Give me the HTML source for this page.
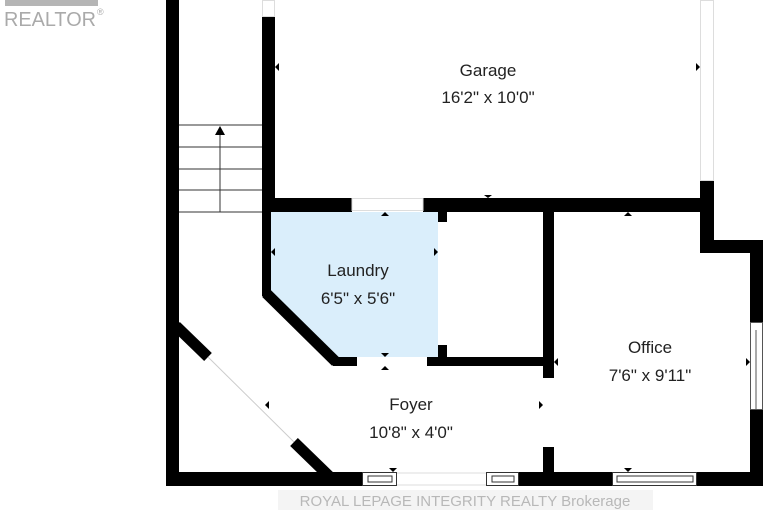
<!DOCTYPE html>
<html><head><meta charset="utf-8"><style>
html,body{margin:0;padding:0;background:#fff;width:767px;height:511px;overflow:hidden}
svg{display:block}
.t{font-family:"Liberation Sans Narrow","Liberation Sans",sans-serif;font-size:17px;fill:#222;text-anchor:middle}
</style></head><body>
<svg width="767" height="511" viewBox="0 0 767 511">
<!-- realtor logo -->
<rect x="5" y="0" width="93" height="6" fill="#b5b5b5"/>
<text x="4" y="26" font-family="Liberation Sans,sans-serif" font-size="20" fill="#aaa" textLength="92" lengthAdjust="spacingAndGlyphs">REALTOR</text>
<text x="97" y="15" font-family="Liberation Sans,sans-serif" font-size="9" fill="#aaa">®</text>

<!-- laundry fill -->
<polygon points="271,212 438,212 438,357 333,357 271,296" fill="#daeefb"/>

<g fill="#000">
<rect x="166" y="0" width="13" height="486"/>
<rect x="262" y="17" width="13" height="194"/>
<rect x="262" y="198" width="9" height="98"/>
<rect x="262" y="198" width="90" height="14"/>
<rect x="423" y="198" width="291" height="14"/>
<rect x="700" y="181" width="14" height="72"/>
<rect x="700" y="240" width="63" height="13"/>
<rect x="750" y="240" width="13" height="82"/>
<rect x="750" y="410" width="13" height="76"/>
<rect x="438" y="212" width="9" height="10"/>
<rect x="438" y="345" width="9" height="21"/>
<rect x="333" y="357" width="24" height="9"/>
<rect x="427" y="357" width="127" height="9"/>
<rect x="543" y="212" width="11" height="166"/>
<rect x="543" y="447" width="11" height="39"/>
<rect x="166" y="472" width="196" height="14"/>
<rect x="518" y="472" width="94" height="14"/>
<rect x="697" y="472" width="66" height="14"/>
</g>
<line x1="266" y1="293" x2="336" y2="362" stroke="#000" stroke-width="11"/>
<line x1="176" y1="326" x2="208" y2="357" stroke="#000" stroke-width="11"/>
<line x1="208" y1="357" x2="294" y2="442" stroke="#ccc" stroke-width="1"/>
<line x1="294" y1="442" x2="329" y2="476" stroke="#000" stroke-width="11"/>
<rect x="262.5" y="0.5" width="12" height="16" fill="none" stroke="#ddd"/>
<rect x="700.5" y="0.5" width="13" height="180" fill="none" stroke="#ddd"/>
<rect x="352" y="198.5" width="71" height="12" fill="none" stroke="#ddd"/>
<rect x="750.5" y="322.5" width="12" height="87" fill="none" stroke="#555"/>
<line x1="756" y1="330" x2="756" y2="410" stroke="#555"/>
<rect x="362.5" y="472.5" width="34" height="13" fill="#fff" stroke="#333"/>
<rect x="368" y="476" width="24" height="6" fill="none" stroke="#333"/>
<rect x="486.5" y="472.5" width="32" height="13" fill="#fff" stroke="#333"/>
<rect x="492" y="476" width="22" height="6" fill="none" stroke="#333"/>
<rect x="612.5" y="472.5" width="84" height="13" fill="#fff" stroke="#333"/>
<rect x="617" y="476" width="76" height="6" fill="none" stroke="#333"/>
<line x1="397" y1="473" x2="486" y2="473" stroke="#ddd"/>
<line x1="397" y1="485" x2="486" y2="485" stroke="#ddd"/>
<g stroke="#333" stroke-width="1">
<line x1="179" y1="125" x2="262" y2="125"/>
<line x1="179" y1="147" x2="262" y2="147"/>
<line x1="179" y1="169" x2="262" y2="169"/>
<line x1="179" y1="190" x2="262" y2="190"/>
<line x1="179" y1="212" x2="262" y2="212"/>
<line x1="220" y1="212" x2="220" y2="132"/>
</g>
<polygon points="220,126 215,135 225,135" fill="#000"/>
<g fill="#000">
<polygon points="275,67 279,63 279,71"/>
<polygon points="700,67 696,63 696,71"/>
<polygon points="488,194 484,197 492,197" transform="rotate(180 488 196)"/>
<polygon points="628,212 624,216 632,216"/>
<polygon points="385,212 381,216 389,216"/>
<polygon points="385,357 381,353 389,353"/>
<polygon points="385,366 381,370 389,370"/>
<polygon points="271,252 275,248 275,256"/>
<polygon points="438,252 434,248 434,256"/>
<polygon points="554,362 558,358 558,366"/>
<polygon points="750,362 746,358 746,366"/>
<polygon points="265,405 269,401 269,409"/>
<polygon points="543,405 539,401 539,409"/>
<polygon points="393,472 389,468 397,468"/>
<polygon points="628,472 624,468 632,468"/>
</g>
<text class="t" x="488" y="76">Garage</text>
<text class="t" x="488" y="103">16'2" x 10'0"</text>
<text class="t" x="358" y="276">Laundry</text>
<text class="t" x="358" y="304">6'5" x 5'6"</text>
<text class="t" x="650" y="353">Office</text>
<text class="t" x="650" y="381">7'6" x 9'11"</text>
<text class="t" x="411" y="410">Foyer</text>
<text class="t" x="411" y="438">10'8" x 4'0"</text>
<rect x="278" y="490" width="375" height="20" fill="#f4f4f4"/>
<text x="465" y="506" text-anchor="middle" font-family="Liberation Sans,sans-serif" font-size="15" fill="#b8b8b8">ROYAL LEPAGE INTEGRITY REALTY  Brokerage</text>
</svg>
</body></html>
